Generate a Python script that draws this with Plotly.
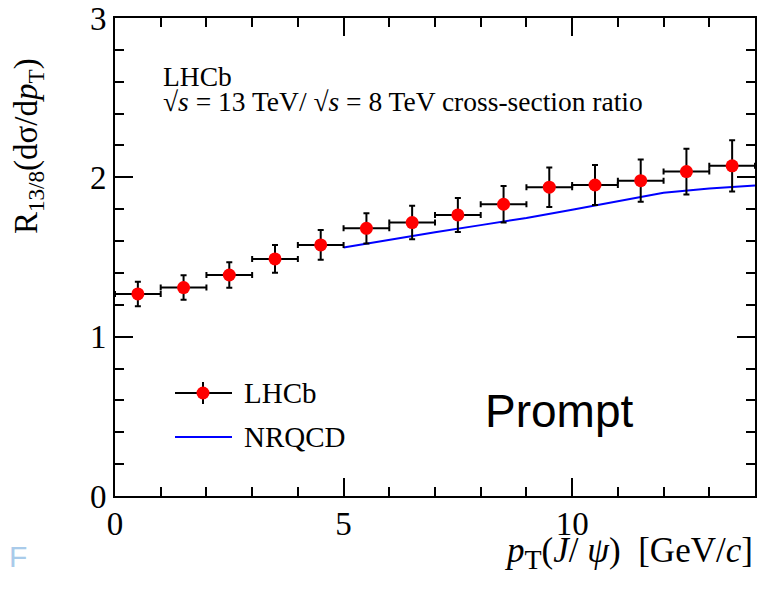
import plotly.graph_objects as go

# ---- data ----
pt_centers = [0.5, 1.5, 2.5, 3.5, 4.5, 5.5, 6.5, 7.5, 8.5, 9.5, 10.5, 11.5, 12.5, 13.5]
pt_halfwidth = [0.5] * 14
ratio = [1.268, 1.308, 1.387, 1.488, 1.576, 1.680, 1.716, 1.764, 1.831, 1.938, 1.952, 1.979, 2.036, 2.072]
ratio_err = [0.077, 0.077, 0.080, 0.087, 0.093, 0.095, 0.105, 0.107, 0.114, 0.124, 0.126, 0.133, 0.143, 0.161]

nrqcd_pt = [5, 6, 7, 8, 9, 10, 11, 12, 13, 14]
nrqcd_ratio = [1.559, 1.608, 1.655, 1.700, 1.745, 1.797, 1.850, 1.903, 1.930, 1.948]

W, H = 760, 590
ML, MR, MT, MB = 115, 5, 18, 94
PW, PH = W - ML - MR, H - MT - MB

def px(xp):
    return (xp - ML) / PW

def py(yp):
    return (H - MB - yp) / PH

SERIF = "Liberation Serif"
SANS = "Liberation Sans"

fig = go.Figure()

fig.add_trace(go.Scatter(
    x=nrqcd_pt, y=nrqcd_ratio, mode="lines",
    line=dict(color="#0000ff", width=2), name="NRQCD", showlegend=False,
))

fig.add_trace(go.Scatter(
    x=pt_centers, y=ratio, mode="markers",
    marker=dict(color="#ff0000", size=13),
    error_y=dict(type="data", array=ratio_err, color="black", thickness=2, width=3),
    error_x=dict(type="data", array=pt_halfwidth, color="black", thickness=2, width=3),
    name="LHCb", showlegend=False,
))

axis_common = dict(
    showgrid=False, zeroline=False, showline=True, linecolor="black", linewidth=2,
    mirror="ticks", ticks="inside", ticklen=18, tickwidth=2, tickcolor="black",
    tickfont=dict(family=SERIF, size=33, color="black"),
)

fig.update_xaxes(range=[0, 14], tick0=0, dtick=5, ticklabelstandoff=-3,
                 minor=dict(dtick=1, ticks="inside", ticklen=9, tickwidth=2, tickcolor="black"),
                 **axis_common)
fig.update_yaxes(range=[0, 3], tick0=0, dtick=1,
                 minor=dict(dtick=0.2, ticks="inside", ticklen=9, tickwidth=2, tickcolor="black"),
                 **axis_common)

annotations = [
    dict(text="<i>p</i><sub><span style='font-size:28px'>T</span></sub>(<i>J</i>/&nbsp;<i>ψ</i>)&nbsp;&nbsp;[GeV/<i>c</i>]",
         x=1.0, y=py(553), xanchor="right", yanchor="middle",
         font=dict(family=SERIF, size=35, color="black")),
    dict(text="R<sub>13/8</sub>(dσ/d<i>p</i><sub>T</sub>)", x=px(28), y=py(146), textangle=-90,
         xanchor="center", yanchor="middle", font=dict(family=SERIF, size=33, color="black")),
    dict(text="LHCb", x=px(161), y=py(76), xanchor="left", yanchor="middle",
         font=dict(family=SERIF, size=27.5, color="black")),
    dict(text="√<i>s</i> = 13 TeV/ √<i>s</i> = 8 TeV cross-section ratio", x=px(161), y=py(101),
         xanchor="left", yanchor="middle", font=dict(family=SERIF, size=27.5, color="black")),
    dict(text="Prompt", x=px(483), y=py(411), xanchor="left", yanchor="middle",
         font=dict(family=SANS, size=46, color="black")),
    dict(text="LHCb", x=px(242), y=py(393), xanchor="left", yanchor="middle",
         font=dict(family=SERIF, size=29, color="black")),
    dict(text="NRQCD", x=px(242), y=py(437), xanchor="left", yanchor="middle",
         font=dict(family=SERIF, size=29, color="black")),
    dict(text="F", x=px(7), y=py(556), xanchor="left", yanchor="middle",
         font=dict(family=SANS, size=30, color="#a9cbea")),
]
for a in annotations:
    a.update(xref="paper", yref="paper", showarrow=False)

shapes = [
    # legend: LHCb error cross
    dict(type="line", x0=px(175), x1=px(232), y0=py(393), y1=py(393), line=dict(color="black", width=2)),
    dict(type="line", x0=px(203), x1=px(203), y0=py(382), y1=py(404), line=dict(color="black", width=2)),
    dict(type="circle", x0=px(196.5), x1=px(209.5), y0=py(386.5), y1=py(399.5),
         fillcolor="#ff0000", line=dict(color="#ff0000", width=0)),
    # legend: NRQCD line
    dict(type="line", x0=px(175), x1=px(232), y0=py(437), y1=py(437), line=dict(color="#0000ff", width=2)),
]
for s in shapes:
    s.update(xref="paper", yref="paper")

fig.update_layout(
    width=W, height=H,
    margin=dict(l=ML, r=MR, t=MT, b=MB, autoexpand=False),
    paper_bgcolor="white", plot_bgcolor="white",
    annotations=annotations, shapes=shapes, showlegend=False,
)

fig.write_html("out.html")
